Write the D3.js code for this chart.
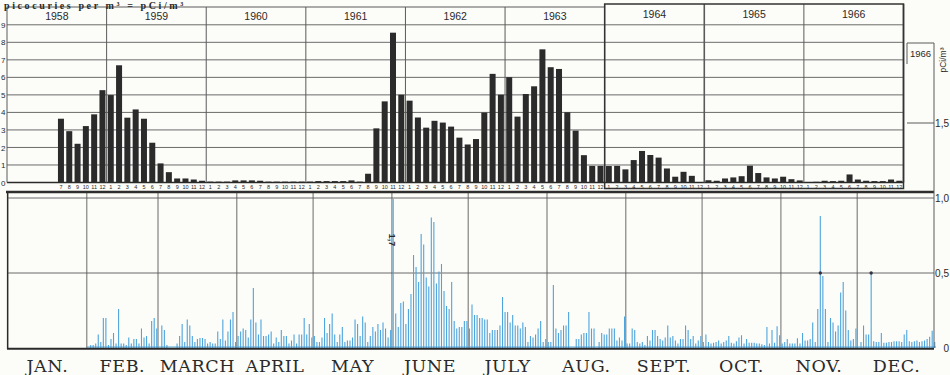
<!DOCTYPE html>
<html>
<head>
<meta charset="utf-8">
<script src="https://cdn.jsdelivr.net/npm/d3@7"></script>
<style>
  html, body { margin: 0; padding: 0; background: #fcfcf9; }
  svg { display: block; }
</style>
</head>
<body>
<svg id="chart" width="950" height="375"></svg>
<script>
// ---- Monthly means 1958–1966 (upper panel), Jan..Dec, null = no measurement ----
const years = [1958, 1959, 1960, 1961, 1962, 1963, 1964, 1965, 1966];
const m1958 = [null, null, null, null, null, null, 3.64, 2.93, 2.21, 3.22, 3.89, 5.27];
const m1959 = [4.99, 6.69, 3.70, 4.17, 3.64, 2.27, 1.09, 0.59, 0.23, 0.23, 0.17, 0.10];
const m1960 = [0.05, 0.05, 0.05, 0.12, 0.12, 0.12, 0.10, 0.05, 0.05, 0.05, 0.05, 0.05];
const m1961 = [0.05, 0.08, 0.08, 0.08, 0.08, 0.12, 0.05, 0.50, 3.09, 4.63, 8.55, 5.01];
const m1962 = [4.67, 3.71, 3.13, 3.52, 3.42, 3.19, 2.56, 2.17, 2.48, 3.99, 6.20, 5.01];
const m1963 = [6.01, 3.76, 5.05, 5.49, 7.60, 6.58, 6.48, 4.01, 2.96, 1.56, 0.95, 0.95];
const m1964 = [0.94, 0.95, 0.75, 1.28, 1.80, 1.57, 1.42, 0.80, 0.33, 0.61, 0.38, 0.00];
const m1965 = [0.13, 0.10, 0.23, 0.29, 0.36, 0.96, 0.54, 0.29, 0.23, 0.33, 0.19, 0.12];
const m1966 = [0.00, 0.04, 0.10, 0.08, 0.10, 0.46, 0.17, 0.10, 0.08, 0.08, 0.17, 0.10];
const leftTicks = [0, 1, 2, 3, 4, 5, 6, 7, 8, 9];

// ---- Daily values for 1966 (lower panel), pCi/m³ ----
const feb = [0, 0.02, 0.02, 0.03, 0.09, 0.04, 0.20, 0.20, 0.02, 0.06, 0.10, 0.03, 0.26, 0.03, 0.03, 0.02, 0.07, 0.03, 0.06, 0.06, 0.03, 0.13, 0.07, 0.08, 0.03, 0.18, 0.20, 0.13];
const mar = [0, 0.15, 0.12, 0.02, 0, 0, 0, 0.03, 0.08, 0.16, 0.04, 0.19, 0.15, 0.08, 0.04, 0.06, 0.067, 0.067, 0.06, 0.03, 0.04, 0.03, 0.03, 0.11, 0.06, 0.19, 0.05, 0.11, 0.19, 0.24, 0.04];
const apr = [0.08, 0.11, 0.13, 0.12, 0.07, 0.19, 0.40, 0.17, 0.09, 0.19, 0.08, 0.08, 0.09, 0.11, 0.03, 0.07, 0.04, 0.12, 0.08, 0.08, 0.03, 0.05, 0.09, 0.03, 0.09, 0.09, 0.20, 0.09, 0.16, 0.07];
const may = [0.08, 0.04, 0.04, 0.07, 0.20, 0.10, 0.16, 0.23, 0.09, 0.04, 0.09, 0.14, 0.04, 0.05, 0.05, 0.07, 0.19, 0.16, 0.08, 0.21, 0.17, 0.04, 0.08, 0.14, 0.11, 0.16, 0.12, 0.17, 0.13, 0.07, 0.12];
const jun = [1.7, 0.23, 0.14, 0.30, 0.31, 0.16, 0.26, 0.36, 0.62, 0.54, 0.44, 0.76, 0.69, 0.47, 0.41, 0.87, 0.84, 0.43, 0.51, 0.56, 0.38, 0.28, 0.26, 0.44, 0.18, 0.13, 0.14, 0.14, 0.18, 0.18];
const jul = [0.13, 0.29, 0.22, 0.22, 0.20, 0.20, 0.19, 0.19, 0.10, 0.12, 0.12, 0.12, 0.15, 0.34, 0.24, 0.24, 0.17, 0.22, 0.15, 0.15, 0.13, 0.17, 0.14, 0.04, 0.08, 0.07, 0.09, 0.13, 0.18, 0.04, 0.06];
const aug = [0.04, 0.04, 0.42, 0.13, 0.10, 0.12, 0.15, 0.15, 0.24, 0, 0, 0.06, 0.06, 0.09, 0.10, 0.10, 0.24, 0.13, 0.13, 0, 0.04, 0.10, 0.09, 0.09, 0.13, 0.13, 0.13, 0.05, 0.07, 0.05, 0.21];
const sep = [0.03, 0.03, 0.13, 0.12, 0.04, 0.03, 0.04, 0.02, 0.08, 0.05, 0.12, 0.12, 0.08, 0.06, 0.05, 0.07, 0.15, 0.07, 0.08, 0.05, 0.03, 0.06, 0.06, 0.15, 0.12, 0.06, 0.08, 0.03, 0.05, 0.08];
const oct = [0.04, 0.09, 0.04, 0.03, 0.035, 0.04, 0.05, 0.03, 0.04, 0.05, 0.08, 0.035, 0.03, 0.045, 0.07, 0.085, 0.03, 0.06, 0.035, 0.035, 0.035, 0.03, 0.03, 0.025, 0.02, 0.14, 0.03, 0.12, 0.035, 0.145, 0.085];
const nov = [0.03, 0.04, 0.06, 0.03, 0.03, 0.03, 0.065, 0.03, 0.10, 0.05, 0.05, 0.06, 0.17, 0.04, 0.26, 0.88, 0.48, 0.26, 0.04, 0.20, 0.17, 0.11, 0.15, 0.37, 0.44, 0.25, 0.12, 0.05, 0.06, 0.13];
const dec = [0, 0.04, 0.15, 0.09, 0.09, 0.50, 0.045, 0.04, 0.04, 0.10, 0.035, 0.035, 0.04, 0.04, 0.045, 0.045, 0.045, 0.04, 0.09, 0.12, 0.045, 0.04, 0.045, 0.05, 0.04, 0.045, 0.05, 0.06, 0.075, 0.115, 0.04];
const monthNames = ["JAN.", "FEB.", "MARCH", "APRIL", "MAY", "JUNE", "JULY", "AUG.", "SEPT.", "OCT.", "NOV.", "DEC."];
const rightTicks = [0, 0.5, 1.0, 1.5];
// days marked with a dot where they cross the 0,5 level
const markedDays = [[10, 16], [11, 6]];

const svg = d3.select("#chart");
const ink = "#2a2a2a";
const grid = "#5a5a5a";
const blue = "#4ea4dc";

// ================= Upper panel: monthly bars =================
const monthly = [m1958, m1959, m1960, m1961, m1962, m1963, m1964, m1965, m1966];
const monthRows = [];
years.forEach((yr, i) => monthly[i].forEach((v, j) => {
  if (v !== null) monthRows.push({ yr, month: j + 1, idx: i * 12 + j, v });
}));

const xTop = d3.scaleLinear().domain([0, years.length * 12]).range([7, 903.5]);
const yTop = d3.scaleLinear().domain([0, 9]).range([182.5, 24.8]);

const topG = svg.append("g");

// horizontal grid
topG.selectAll("line.h").data(d3.range(1, 10)).join("line")
  .attr("x1", xTop(0)).attr("x2", xTop(108))
  .attr("y1", d => yTop(d)).attr("y2", d => yTop(d))
  .attr("stroke", grid).attr("stroke-width", 0.9);
topG.append("line")
  .attr("x1", xTop(0)).attr("x2", xTop(108))
  .attr("y1", yTop(0)).attr("y2", yTop(0))
  .attr("stroke", ink).attr("stroke-width", 1.3);
// outer top edge
topG.append("line")
  .attr("x1", xTop(0)).attr("x2", xTop(72))
  .attr("y1", 7).attr("y2", 7)
  .attr("stroke", grid).attr("stroke-width", 1.1);

// year dividers
topG.selectAll("line.yr").data(d3.range(0, 10)).join("line")
  .attr("x1", d => xTop(d * 12)).attr("x2", d => xTop(d * 12))
  .attr("y1", d => d >= 6 ? 4 : 7).attr("y2", yTop(0))
  .attr("stroke", grid).attr("stroke-width", d => (d === 7 || d === 9) ? 1.6 : 1);

// box around 1964–1966
topG.append("rect")
  .attr("x", xTop(72)).attr("y", 4)
  .attr("width", xTop(108) - xTop(72)).attr("height", 188.5 - 4)
  .attr("fill", "none").attr("stroke", "#333").attr("stroke-width", 1.5);

// year headers
topG.selectAll("text.yr").data(years).join("text")
  .attr("x", (d, i) => xTop(i * 12 + 6))
  .attr("y", (d, i) => i >= 6 ? 18 : 20)
  .attr("text-anchor", "middle")
  .attr("font-family", "Liberation Sans, Arial, sans-serif")
  .attr("font-size", 10.5)
  .attr("fill", ink)
  .text(d => d);

// bars
topG.selectAll("rect.bar").data(monthRows).join("rect")
  .attr("x", d => xTop(d.idx + 0.5) - 3)
  .attr("width", 6)
  .attr("y", d => yTop(d.v))
  .attr("height", d => yTop(0) - yTop(d.v))
  .attr("fill", "#2b2b2b");

// month numbers under bars
topG.selectAll("text.mn").data(monthRows).join("text")
  .attr("x", d => xTop(d.idx + 0.5))
  .attr("y", 189)
  .attr("text-anchor", "middle")
  .attr("font-family", "Liberation Sans, Arial, sans-serif")
  .attr("font-size", 5.5)
  .attr("fill", ink)
  .text(d => d.month);

// title line along the top edge
svg.append("text")
  .attr("x", 4).attr("y", 9.4)
  .attr("font-family", "Liberation Serif, serif")
  .attr("font-weight", "bold")
  .attr("font-size", 10)
  .attr("letter-spacing", 2.6)
  .attr("fill", ink)
  .text("picocuries per m³ = pCi/m³");

// left value axis, squeezed into the narrow margin
const leftAxis = svg.append("g")
  .attr("transform", `translate(${xTop(0)},0)`)
  .call(d3.axisLeft(yTop).tickValues(leftTicks).tickSize(0).tickPadding(1.5));
leftAxis.select(".domain").remove();
leftAxis.selectAll("text")
  .attr("font-family", "Liberation Sans Narrow, Liberation Sans, Arial, sans-serif")
  .attr("font-size", 8).attr("fill", ink);

// ================= Lower panel: daily values 1966 =================
const daily = [null, feb, mar, apr, may, jun, jul, aug, sep, oct, nov, dec];
const dayRows = [];
daily.forEach((arr, m) => {
  if (!arr) return;
  arr.forEach((v, d) => dayRows.push({ date: new Date(1966, m, d + 1), v, m, d: d + 1 }));
});

const xDay = d3.scaleTime()
  .domain([new Date(1966, 0, 1), new Date(1967, 0, 1)])
  .range([8, 936]);
const yDay = d3.scaleLinear().domain([0, 1]).range([348, 198]);
const halfDay = (xDay(new Date(1966, 0, 2)) - xDay(new Date(1966, 0, 1))) / 2;
const monthStarts = d3.range(0, 13).map(m => new Date(1966, m, 1));

const bot = svg.append("g");

// clip the daily lines at the 1,0 level
svg.append("defs").append("clipPath").attr("id", "lowclip")
  .append("rect").attr("x", 0).attr("y", yDay(1) + 1).attr("width", 950).attr("height", 200);

// horizontal grid 0,5 and 1,0
bot.selectAll("line.h").data([0.5, 1.0]).join("line")
  .attr("x1", xDay(monthStarts[0])).attr("x2", 934)
  .attr("y1", d => yDay(d)).attr("y2", d => yDay(d))
  .attr("stroke", grid).attr("stroke-width", 0.9);

// month dividers
bot.selectAll("line.v").data(monthStarts.slice(0, 12)).join("line")
  .attr("x1", d => xDay(d)).attr("x2", d => xDay(d))
  .attr("y1", 192).attr("y2", yDay(0))
  .attr("stroke", grid).attr("stroke-width", 0.9);

// daily lines
bot.append("g").attr("clip-path", "url(#lowclip)")
  .selectAll("line").data(dayRows.filter(d => d.v > 0)).join("line")
  .attr("x1", d => xDay(d.date) + halfDay).attr("x2", d => xDay(d.date) + halfDay)
  .attr("y1", yDay(0)).attr("y2", d => yDay(d.v))
  .attr("stroke", blue).attr("stroke-width", 1.1);

// dots at 0,5
bot.selectAll("circle").data(markedDays).join("circle")
  .attr("cx", d => xDay(new Date(1966, d[0], d[1])) + halfDay)
  .attr("cy", yDay(0.5)).attr("r", 1.7)
  .attr("fill", "#334");

// "1,7" marker for the off-scale value on 1 June
const junPeak = dayRows.find(d => d.m === 5 && d.d === 1);
bot.append("text")
  .attr("transform", `translate(${xDay(junPeak.date) + halfDay - 4},240) rotate(90)`)
  .attr("text-anchor", "middle")
  .attr("font-family", "Liberation Sans, Arial, sans-serif")
  .attr("font-size", 9).attr("font-weight", "bold")
  .attr("fill", ink)
  .text(String(junPeak.v).replace(".", ","));

// baseline
bot.append("line")
  .attr("x1", xDay(monthStarts[1])).attr("x2", 936)
  .attr("y1", yDay(0) - 1).attr("y2", yDay(0) - 1)
  .attr("stroke", blue).attr("stroke-width", 1.2);
bot.append("line")
  .attr("x1", xDay(monthStarts[0]) - 1).attr("x2", 934)
  .attr("y1", yDay(0) + 0.8).attr("y2", yDay(0) + 0.8)
  .attr("stroke", ink).attr("stroke-width", 2);

// heavy separator between the panels
svg.append("line")
  .attr("x1", 6).attr("x2", 934)
  .attr("y1", 192).attr("y2", 192)
  .attr("stroke", "#2e2e2e").attr("stroke-width", 2.6);
// left border of lower panel
bot.append("line")
  .attr("x1", 7.5).attr("x2", 7.5).attr("y1", 192).attr("y2", yDay(0) + 1)
  .attr("stroke", ink).attr("stroke-width", 1.2);

// month names
bot.selectAll("text.mo").data(monthNames).join("text")
  .attr("x", (d, i) => (xDay(monthStarts[i]) + xDay(monthStarts[i + 1])) / 2)
  .attr("y", 372)
  .attr("text-anchor", "middle")
  .attr("font-family", "DejaVu Serif, Liberation Serif, serif")
  .attr("font-size", 17.5)
  .attr("letter-spacing", 0.6)
  .attr("fill", ink)
  .text(d => d);

// ---- right scale (pCi/m³, 1966) ----
const axisX = 934;
const yAxisTop = 43;
const right = svg.append("g");
right.append("line")
  .attr("x1", axisX).attr("x2", axisX)
  .attr("y1", yAxisTop).attr("y2", yDay(0))
  .attr("stroke", grid).attr("stroke-width", 1);
right.append("line")
  .attr("x1", 907).attr("x2", axisX)
  .attr("y1", yDay(1.5)).attr("y2", yDay(1.5))
  .attr("stroke", grid).attr("stroke-width", 1);
right.append("line")
  .attr("x1", 907).attr("x2", axisX)
  .attr("y1", yAxisTop).attr("y2", yAxisTop)
  .attr("stroke", grid).attr("stroke-width", 1);
right.append("line")
  .attr("x1", 907).attr("x2", 907)
  .attr("y1", yAxisTop).attr("y2", yAxisTop + 21)
  .attr("stroke", grid).attr("stroke-width", 1);
right.append("text")
  .attr("x", 920.5).attr("y", 57)
  .attr("text-anchor", "middle")
  .attr("font-family", "Liberation Sans, Arial, sans-serif")
  .attr("font-size", 9.5).attr("fill", ink)
  .text("1966");
right.append("text")
  .attr("transform", `translate(946,60) rotate(-90)`)
  .attr("text-anchor", "middle")
  .attr("font-family", "Liberation Sans, Arial, sans-serif")
  .attr("font-size", 8.5).attr("fill", ink)
  .text("pCi/m³");
right.selectAll("text.tk").data(rightTicks).join("text")
  .attr("x", 949).attr("y", d => yDay(d) + 3.5)
  .attr("text-anchor", "end")
  .attr("font-family", "Liberation Sans, Arial, sans-serif")
  .attr("font-size", 10).attr("fill", ink)
  .text(d => d === 0 ? "0" : d3.format(".1f")(d).replace(".", ","));
</script>
</body>
</html>
